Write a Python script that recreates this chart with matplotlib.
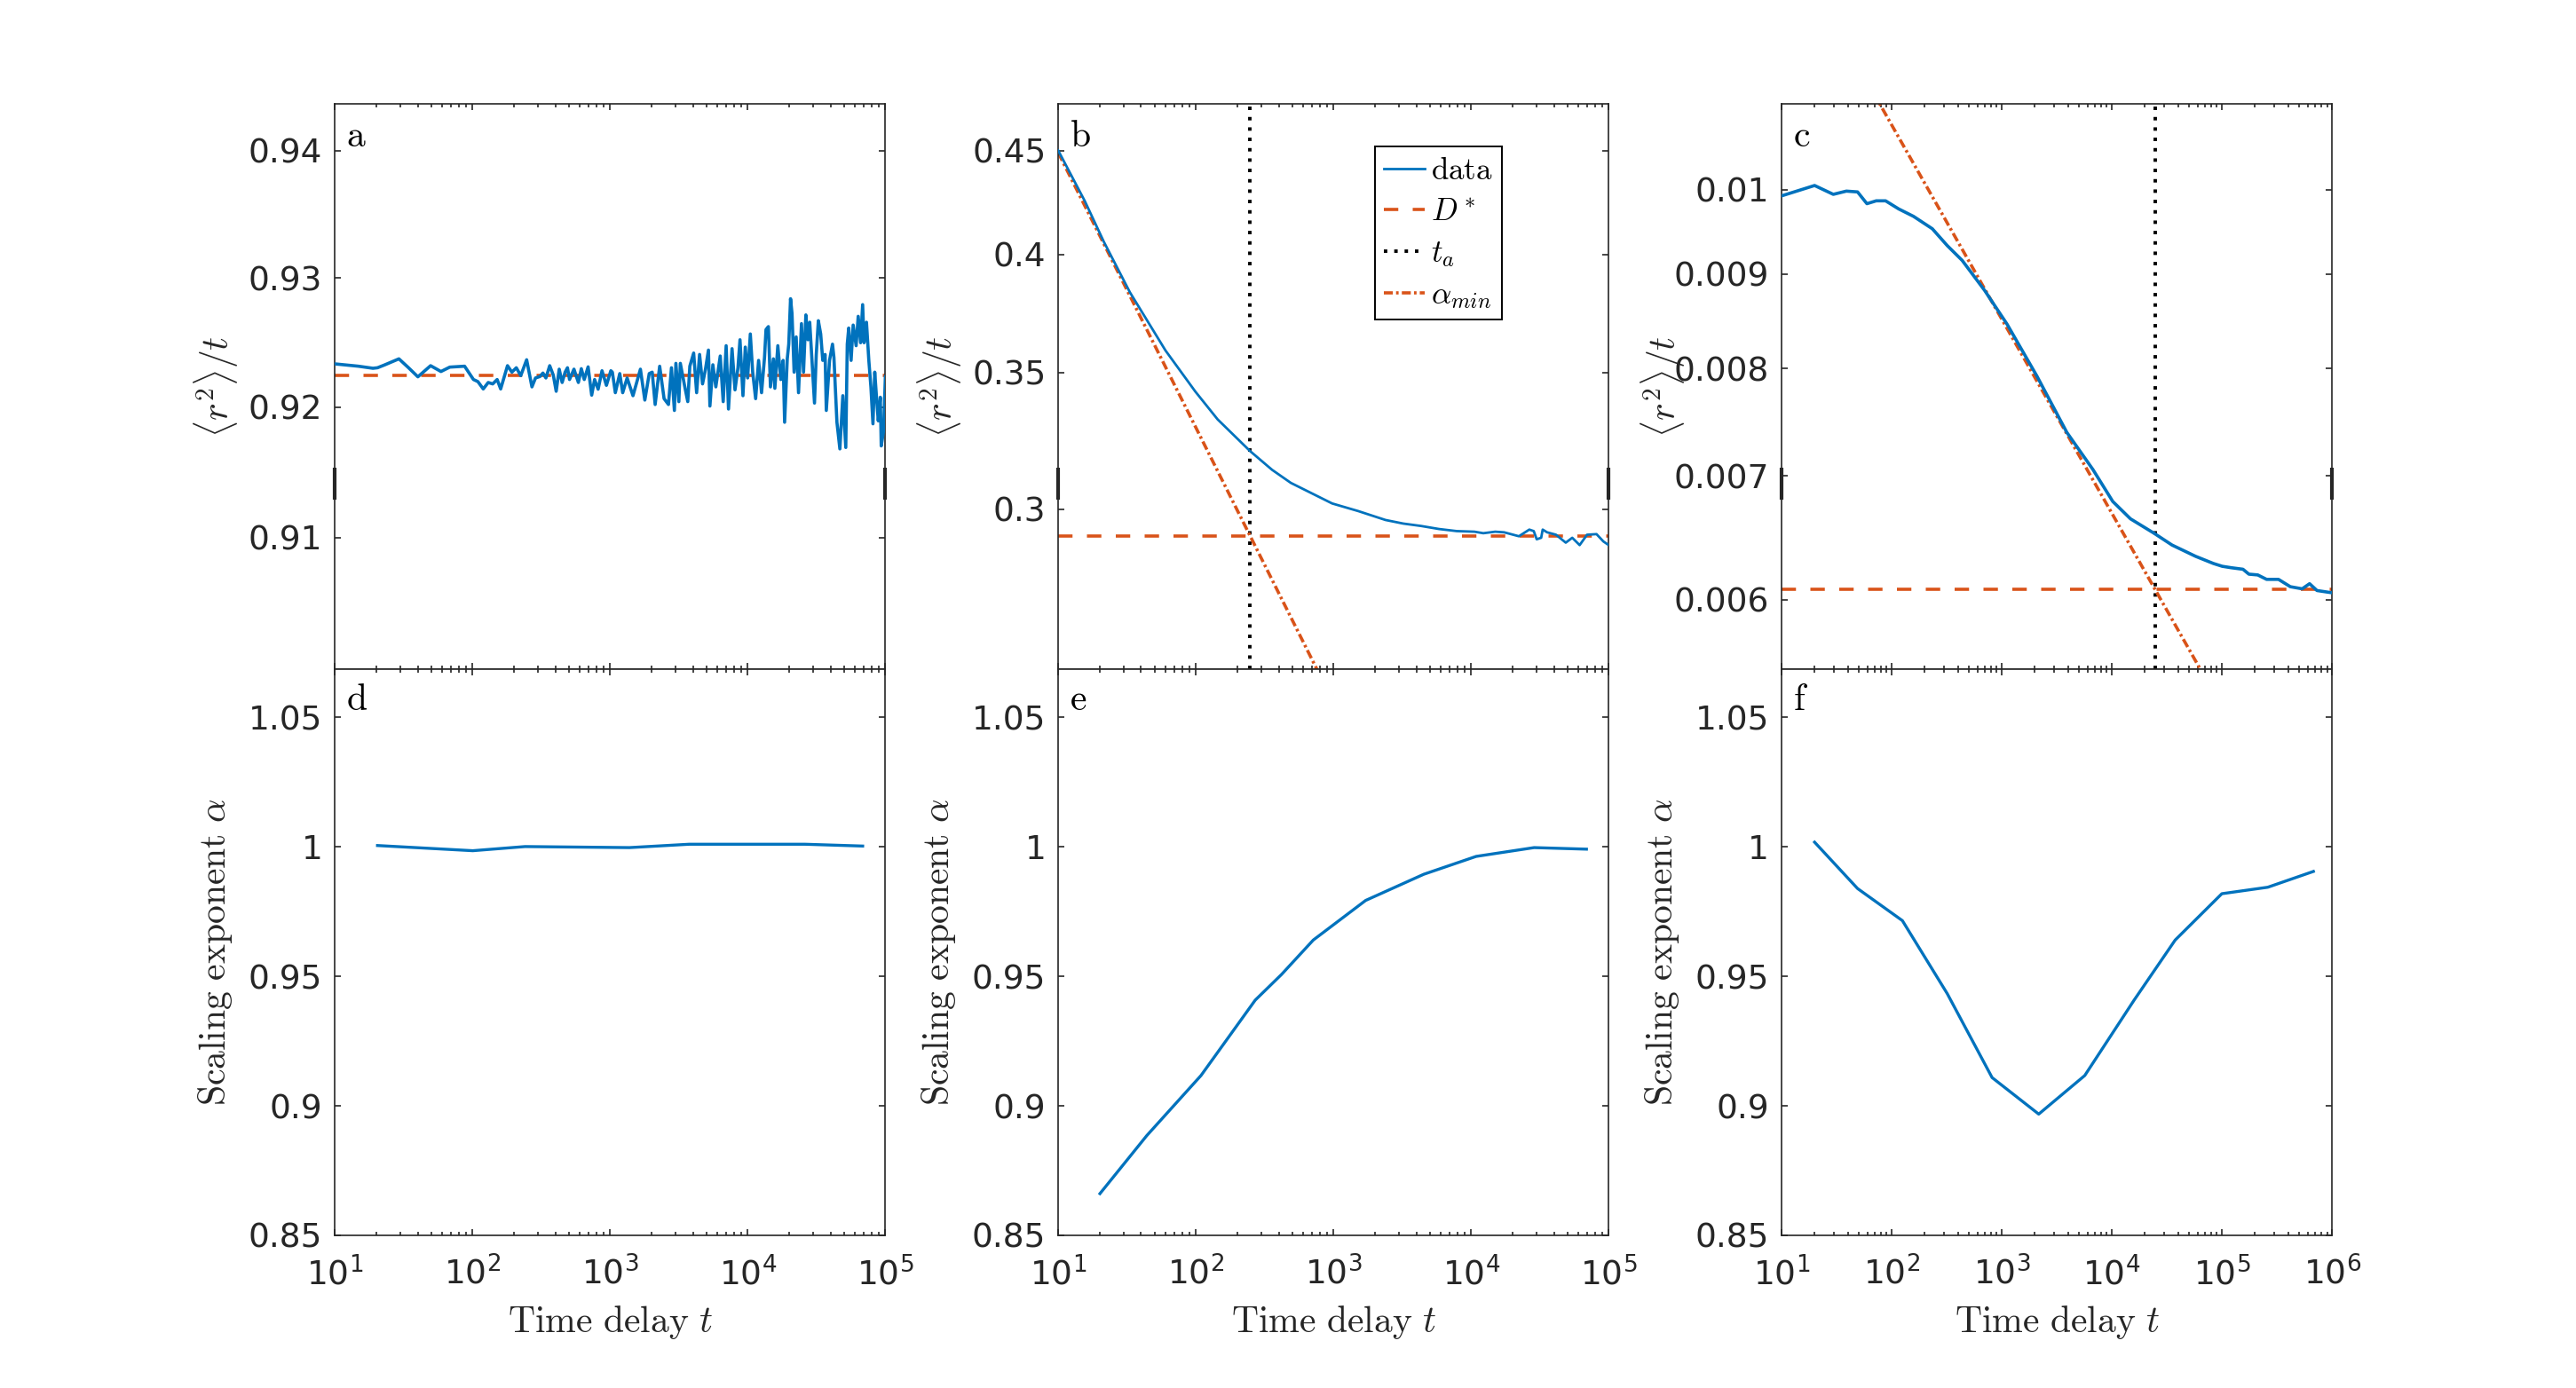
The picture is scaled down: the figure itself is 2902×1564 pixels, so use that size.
import numpy as np
import matplotlib
matplotlib.use("Agg")
import matplotlib.pyplot as plt
from matplotlib.ticker import FixedLocator, FixedFormatter, LogLocator, NullLocator, NullFormatter

# ---------------- data ----------------
a_t = [10, 12.1, 14.8, 18.9, 20.4, 23.1, 29.2, 34.3, 40.1, 49.6,
       59.0, 68.4, 87.6, 101.6, 109.4, 119.7, 130.1, 140.2, 151.0, 160.2,
       179.6, 193.3, 208.1, 224.2, 247.4, 270.3, 287.0, 309.0, 324.9, 341.5,
       363.9, 386.4, 405.6, 426.6, 448.1, 470.9, 489.8, 507.0, 546.0, 587.9,
       617.6, 648.6, 692.0, 734.5, 771.2, 818.2, 872.9, 939.7, 1012,
       1038, 1091, 1175, 1234, 1329, 1466, 1580, 1660, 1787, 1924,
       2022, 2124, 2291, 2466, 2655, 2790, 2931, 3005, 3158, 3237,
       3489, 3666, 3794, 4046, 4251, 4467, 4693, 4931, 5181, 5310,
       5579, 5862, 6311, 6631, 6967, 7246, 7689, 8079, 8489, 8784,
       9229, 9597, 9980, 10440, 10860, 11410, 11990, 12600, 13240, 13570,
       14120, 14620, 15360, 15740, 16540, 17380, 18080, 18530, 19370, 19860,
       20460, 20970, 21720, 22480, 23390, 24570, 25430, 26440, 27390, 28210,
       29380, 30550, 31470, 32580, 33890, 35080, 36490, 37220, 39290, 41290,
       42290, 44460, 46710, 49080, 51560, 52850, 54170, 56350, 58340, 61300,
       63480, 66050, 68370, 70010, 72900, 75820, 78500, 81250, 83720, 86660,
       88800, 91900, 93300, 97000, 100000]
a_msd = [0.92334, 0.92325, 0.92316, 0.92300, 0.92304, 0.92327, 0.92373, 0.92304, 0.92234, 0.92320,
         0.92275, 0.92309, 0.92316, 0.92213, 0.92197, 0.92140, 0.92190, 0.92179, 0.92213, 0.92140,
         0.92320, 0.92270, 0.92304, 0.92243, 0.92366, 0.92156, 0.92225, 0.92236, 0.92263, 0.92225,
         0.92320, 0.92247, 0.92122, 0.92293, 0.92190, 0.92270, 0.92304, 0.92213, 0.92293, 0.92190,
         0.92297, 0.92213, 0.92311, 0.92092, 0.92213, 0.92138, 0.92281, 0.92168, 0.92281,
         0.92270, 0.92111, 0.92259, 0.92111, 0.92225, 0.92088, 0.92213, 0.92293, 0.92054, 0.92259,
         0.92270, 0.92020, 0.92316, 0.92065, 0.92020, 0.92304, 0.91974, 0.92338, 0.92042, 0.92338,
         0.92156, 0.92042, 0.92316, 0.92418, 0.92111, 0.92407, 0.92179, 0.92293, 0.92441, 0.92008,
         0.92327, 0.92156, 0.92395, 0.92042, 0.92475, 0.91985, 0.92452, 0.92133, 0.92304, 0.92521,
         0.92088, 0.92464, 0.92225, 0.92566, 0.92270, 0.92065, 0.92361, 0.92111, 0.92384, 0.92600,
         0.92623, 0.92156, 0.92373, 0.92145, 0.92475, 0.92213, 0.92361, 0.91883, 0.92373, 0.92487,
         0.92840, 0.92726, 0.92270, 0.92543, 0.92111, 0.92646, 0.92270, 0.92714, 0.92521, 0.92657,
         0.92338, 0.92031, 0.92407, 0.92669, 0.92566, 0.92361, 0.92407, 0.91974, 0.92361, 0.92487,
         0.92384, 0.91883, 0.91678, 0.92088, 0.91689, 0.92487, 0.92612, 0.92361, 0.92635, 0.92475,
         0.92703, 0.92498, 0.92794, 0.92498, 0.92657, 0.92361, 0.92156, 0.91871, 0.92270, 0.92042,
         0.91894, 0.92076, 0.91701, 0.91815, 0.92236]
a_Dstar = 0.92245

b_t = [10, 15.6, 21.4, 33.2, 60.2, 99.2, 144, 248, 358, 490, 977, 1513,
       2388, 3215, 4331, 5834, 7855, 10580, 12270, 14960, 17370, 22250,
       26490, 28530, 29980, 32310, 33130, 35670, 41380, 48740, 54330, 61480,
       69590, 81550, 91430, 100000]
b_msd = [0.450, 0.4250, 0.406, 0.3833, 0.3589, 0.3426, 0.3320, 0.3203, 0.3136, 0.3090, 0.3019, 0.2993,
         0.2963, 0.2951, 0.2943, 0.2933, 0.2926, 0.2924, 0.2919, 0.2924, 0.2922, 0.2909,
         0.2931, 0.2926, 0.2899, 0.2904, 0.2931, 0.2922, 0.2914, 0.2888, 0.2904, 0.2880,
         0.2914, 0.2916, 0.2892, 0.2880]
b_Dstar = 0.291
b_ta = 248
b_alpha_min = 0.865

c_t = [10, 19.95, 29.5, 38.8, 49.0, 59.6, 72.4, 88.1, 115.8, 158, 234, 320, 437, 698,
       1116, 2085, 3900, 6730, 10190, 14760, 24250, 35160, 57680, 83590, 100600,
       121200, 155200, 175700, 211500, 254500, 326300, 418000, 535200, 625000, 729500, 982000]
c_msd = [0.009921, 0.01005, 0.00994, 0.00998, 0.00997, 0.009825, 0.00986, 0.00986, 0.009761,
         0.009671, 0.009523, 0.009325, 0.009155, 0.008820, 0.008457, 0.007927, 0.007390,
         0.007056, 0.006781, 0.006636, 0.006517, 0.006423, 0.006333, 0.006277, 0.006255,
         0.006244, 0.006232, 0.006194, 0.006188, 0.006154, 0.006154, 0.006098, 0.006082,
         0.006121, 0.006069, 0.006053]
c_Dstar = 0.006078
c_ta = 24660
c_alpha_min = 0.895

d_t = [20.4, 100.5, 241, 1381, 3757, 26000, 68400]
d_alpha = [1.0005, 0.9985, 1.0001, 0.9997, 1.001, 1.001, 1.0003]

e_t = [20.1, 44, 109, 270, 419, 713, 1713, 4529, 10880, 28700, 68900]
e_alpha = [0.8661, 0.8885, 0.9117, 0.9408, 0.9507, 0.9640, 0.9793, 0.9894, 0.9963, 0.9997, 0.9991]

f_t = [19.95, 49.0, 125.2, 320, 817, 2167, 5675, 15920, 37590, 99800, 261000, 677000]
f_alpha = [1.0018, 0.9839, 0.9715, 0.9433, 0.9109, 0.8968, 0.9117, 0.9408, 0.9640, 0.9819, 0.9844, 0.9905]

a_yticks = [0.91, 0.92, 0.93, 0.94]
a_ylabels = ["0.91", "0.92", "0.93", "0.94"]
b_yticks = [0.3, 0.35, 0.4, 0.45]
b_ylabels = ["0.3", "0.35", "0.4", "0.45"]
c_yticks = [0.006, 0.007, 0.008, 0.009, 0.01]
c_ylabels = ["0.006", "0.007", "0.008", "0.009", "0.01"]
alpha_yticks = [0.85, 0.9, 0.95, 1.0, 1.05]
alpha_ylabels = ["0.85", "0.9", "0.95", "1", "1.05"]

# ---------------- style ----------------
plt.rcParams["font.family"] = ["DejaVu Sans"]
plt.rcParams["mathtext.fontset"] = "dejavusans"

BLUE = "#0072BD"
ORANGE = "#D95319"
AX = "#262626"
TICK_FS = 13.5
LAB_FS = 15

fig = plt.figure(figsize=(14.51, 7.82), dpi=200)
lefts = [0.1300, 0.4108, 0.6916]
W = 0.2137
top_axes = [fig.add_axes([l, 0.5179, W, 0.4073]) for l in lefts]
bot_axes = [fig.add_axes([l, 0.1100, W, 0.4079]) for l in lefts]


def style(ax, xmax):
    ax.set_xscale("log")
    ax.set_xlim(10, xmax)
    ax.xaxis.set_major_locator(LogLocator(base=10, numticks=12))
    ax.xaxis.set_minor_locator(LogLocator(base=10, subs=np.arange(2, 10), numticks=12))
    ax.xaxis.set_minor_formatter(NullFormatter())
    ax.tick_params(which="both", direction="in", top=True, right=True,
                   color=AX, labelcolor=AX, labelsize=TICK_FS, width=0.6)
    ax.tick_params(which="major", length=2.6)
    ax.tick_params(which="minor", length=1.3)
    ax.tick_params(axis="y", pad=5)
    ax.tick_params(axis="x", pad=8.5)
    for s in ax.spines.values():
        s.set_linewidth(0.6)
        s.set_color(AX)


def spine_marks(ax):
    for xx in (0, 1):
        ax.plot([xx, xx], [0.300, 0.356], transform=ax.transAxes, color=AX,
                lw=1.5, clip_on=False, solid_capstyle="butt", zorder=5)


def letter(ax, s, y):
    ax.text(0.021, y, r"$\mathrm{%s}$" % s, transform=ax.transAxes, fontsize=LAB_FS,
            ha="left", va="center", math_fontfamily="cm", color="k")


top_specs = [
    (a_t, a_msd, a_Dstar, None, None, 1e5, (0.9000, 0.9437), a_yticks, a_ylabels, "a"),
    (b_t, b_msd, b_Dstar, b_ta, b_alpha_min, 1e5, (0.2503, 0.4744), b_yticks, b_ylabels, "b"),
    (c_t, c_msd, c_Dstar, c_ta, c_alpha_min, 1e6, (0.005503, 0.011126), c_yticks, c_ylabels, "c"),
]

for ax, (t, m, D, ta, am, xmax, ylim, yt, yl, let) in zip(top_axes, top_specs):
    style(ax, xmax)
    ax.set_yscale("log")
    ax.set_ylim(*ylim)
    ax.yaxis.set_major_locator(FixedLocator(yt))
    ax.yaxis.set_major_formatter(FixedFormatter(yl))
    ax.yaxis.set_minor_locator(NullLocator())
    ax.tick_params(labelbottom=False)
    lw = 1.3 if let != "b" else 1.0
    h_data, = ax.plot(t, m, color=BLUE, lw=lw, zorder=3, label=r"$\mathrm{data}$")
    h_D, = ax.plot([10, xmax], [D, D], color=ORANGE, lw=1.3, dashes=(4.5, 4.5),
                   zorder=2, label=r"$D^*$")
    if ta is not None:
        h_ta = ax.axvline(ta, color="k", lw=1.4, dashes=(1, 2), zorder=2, label=r"$t_a$")
        tt = np.array([10, xmax])
        h_al, = ax.plot(tt, D * (tt / ta) ** (am - 1), color=ORANGE, lw=1.3,
                        dashes=(2.8, 1.0, 0.8, 1.0), zorder=2, label=r"$\alpha_{min}$")
        if let == "b":
            leg = ax.legend(handles=[h_data, h_D, h_ta, h_al], loc="upper left",
                            bbox_to_anchor=(0.575, 0.925), borderaxespad=0,
                            fontsize=12.6, frameon=True, fancybox=False, framealpha=1,
                            edgecolor="k", handlelength=1.3, handletextpad=0.2,
                            labelspacing=0.35, borderpad=0.3)
            leg.get_frame().set_linewidth(0.7)
            for txt in leg.get_texts():
                txt.set_math_fontfamily("cm")
    ax.set_ylabel(r"$\langle r^2\rangle/t$", fontsize=LAB_FS, math_fontfamily="cm",
                  va="center", color=AX)
    ax.yaxis.set_label_coords(-0.215, 0.5)
    spine_marks(ax)
    letter(ax, let, 0.944)

bot_specs = [(d_t, d_alpha, 1e5, "d"), (e_t, e_alpha, 1e5, "e"), (f_t, f_alpha, 1e6, "f")]
for ax, (t, al, xmax, let) in zip(bot_axes, bot_specs):
    style(ax, xmax)
    ax.plot(t, al, color=BLUE, lw=1.2)
    ax.set_ylim(0.85, 1.0686)
    ax.yaxis.set_major_locator(FixedLocator(alpha_yticks))
    ax.yaxis.set_major_formatter(FixedFormatter(alpha_ylabels))
    ax.set_ylabel(r"$\mathrm{Scaling\ exponent}\ \alpha$", fontsize=LAB_FS,
                  math_fontfamily="cm", va="center", color=AX)
    ax.yaxis.set_label_coords(-0.217, 0.5)
    ax.set_xlabel(r"$\mathrm{Time\ delay}\ t$", fontsize=LAB_FS, math_fontfamily="cm",
                  va="center", color=AX)
    ax.xaxis.set_label_coords(0.5, -0.153)
    letter(ax, let, 0.947)

fig.savefig("out.png", dpi=200, facecolor="white")
